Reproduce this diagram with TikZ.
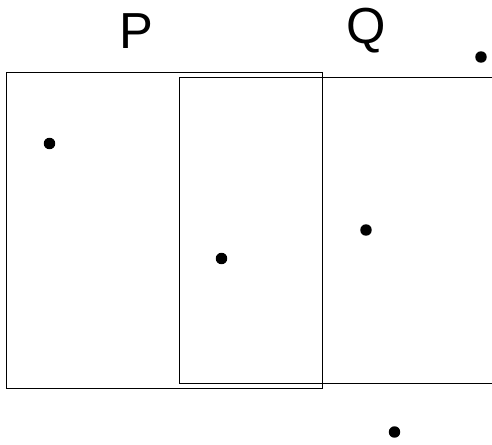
\documentclass[tikz,border=0pt]{standalone}
\usepackage{fontspec}
\setmainfont{Liberation Sans}

\tikzset{every picture/.style={line width=0.75pt}}
\tikzset{pt/.style={circle,fill=black,inner sep=0pt,minimum size=8.6pt}}
\tikzset{setlabel/.style={font=\fontsize{38}{38}\selectfont,inner sep=0pt}}

\begin{document}
\begin{tikzpicture}[x=0.75pt,y=0.75pt,yscale=-1,xscale=1]
	\useasboundingbox (0,0) rectangle (492,444);
	
	%Shape: Rectangle P
	\draw    (6.5,72) rectangle (322.5,388) ;
	%Straight Lines: region Q (open on the right)
	\draw    (492,77.5) -- (179.5,77.5) -- (179.5,383) -- (492,383) ;
	
	%Labels
	\node [setlabel] (lblP) at (136,31) {P};
	\node [setlabel] (lblQ) at (366,31) {Q};
	
	%Points
	\node [pt] (a) at (49.5,143.5) {};
	\node [pt] (b) at (221.5,258.5) {};
	\node [pt] (c) at (366,230) {};
	\node [pt] (d) at (481,57) {};
	\node [pt] (e) at (394.5,432) {};
	
\end{tikzpicture}
\end{document}
